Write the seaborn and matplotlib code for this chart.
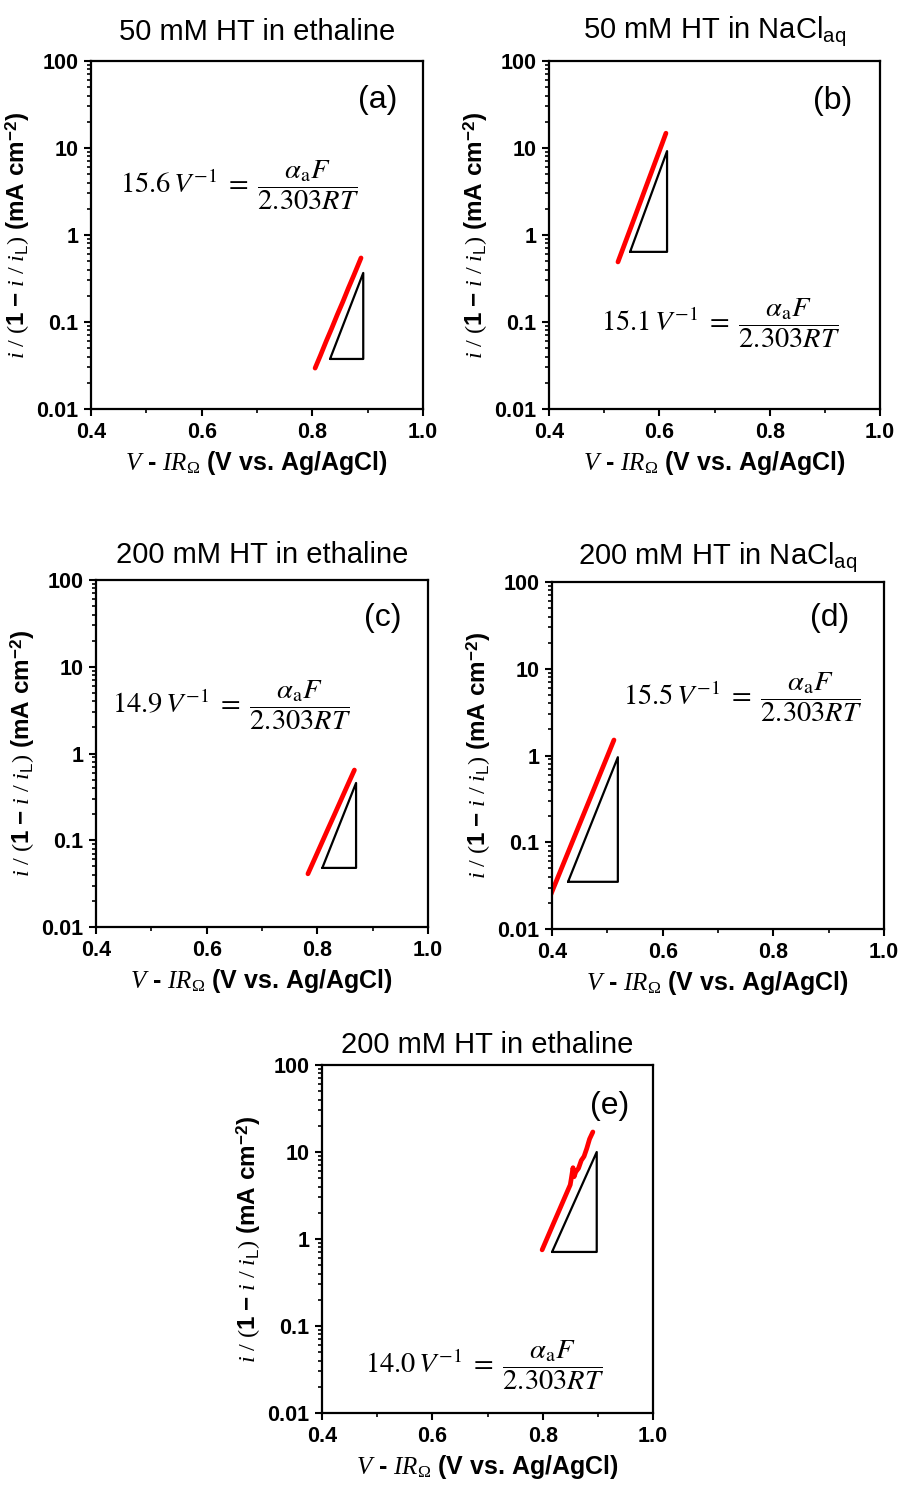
import numpy as np
import pandas as pd
import matplotlib
matplotlib.use("Agg")
import matplotlib.pyplot as plt
import matplotlib.ticker as mticker
import seaborn as sns

# ---------------- data ----------------
titles = ["50 mM HT in ethaline", "50 mM HT in NaCl$_{\\mathsf{aq}}$",
          "200 mM HT in ethaline", "200 mM HT in NaCl$_{\\mathsf{aq}}$",
          "200 mM HT in ethaline"]
panel_tags = ["(a)", "(b)", "(c)", "(d)", "(e)"]
slopes = ["15.6", "15.1", "14.9", "15.5", "14.0"]

a_x = [0.805, 0.815, 0.825, 0.835, 0.845, 0.855, 0.865, 0.875, 0.888]
a_y = [0.0295, 0.0418, 0.060, 0.0845, 0.121, 0.170, 0.244, 0.344, 0.545]
b_x = [0.525, 0.535, 0.545, 0.555, 0.565, 0.575, 0.585, 0.595, 0.605, 0.612]
b_y = [0.49, 0.724, 1.07, 1.58, 2.34, 3.47, 5.13, 7.59, 11.2, 14.8]
c_x = [0.783, 0.795, 0.807, 0.819, 0.831, 0.843, 0.855, 0.867]
c_y = [0.041, 0.0608, 0.0902, 0.134, 0.198, 0.294, 0.436, 0.645]
d_x = [0.395, 0.410, 0.425, 0.440, 0.455, 0.470, 0.485, 0.500, 0.512]
d_y = [0.0225, 0.0386, 0.0662, 0.1135, 0.1945, 0.333, 0.571, 0.979, 1.51]
e_x = [0.799, 0.810, 0.820, 0.830, 0.840, 0.850, 0.852, 0.855, 0.857, 0.860,
       0.865, 0.870, 0.875, 0.880, 0.885, 0.891]
e_y = [0.75, 1.09, 1.53, 2.14, 3.0, 4.2, 5.0, 6.6, 5.2, 5.9,
       6.5, 8.0, 8.9, 11.0, 14.1, 17.0]

# slope triangles (closed outline)
tri_a_x = [0.832, 0.892, 0.892, 0.832]; tri_a_y = [0.0376, 0.0376, 0.366, 0.0376]
tri_b_x = [0.547, 0.614, 0.614, 0.547]; tri_b_y = [0.64, 0.64, 9.2, 0.64]
tri_c_x = [0.809, 0.870, 0.870, 0.809]; tri_c_y = [0.048, 0.048, 0.457, 0.048]
tri_d_x = [0.429, 0.519, 0.519, 0.429]; tri_d_y = [0.035, 0.035, 0.955, 0.035]
tri_e_x = [0.817, 0.898, 0.898, 0.817]; tri_e_y = [0.71, 0.71, 10.0, 0.71]

x_ticks = [0.4, 0.6, 0.8, 1.0]
x_tick_labels = ["0.4", "0.6", "0.8", "1.0"]
x_minor = [0.5, 0.7, 0.9]
y_ticks = [0.01, 0.1, 1, 10, 100]
y_tick_labels = ["0.01", "0.1", "1", "10", "100"]

series = [(a_x, a_y), (b_x, b_y), (c_x, c_y), (d_x, d_y), (e_x, e_y)]
triangles = [(tri_a_x, tri_a_y), (tri_b_x, tri_b_y), (tri_c_x, tri_c_y),
             (tri_d_x, tri_d_y), (tri_e_x, tri_e_y)]

# ---------------- layout ----------------
W, H = 899, 1486
# left, top, right, bottom in pixels
boxes = [(91, 61, 423, 409), (549, 61, 880, 409),
         (96, 580, 428, 927), (552, 582, 884, 929),
         (322, 1065, 653, 1413)]
eq_pos = [(0.669, 3.76), (0.712, 0.098), (0.646, 3.63), (0.744, 4.72), (0.695, 0.0355)]
tag_pos = [(0.864, 0.888), (0.858, 0.885), (0.864, 0.89), (0.837, 0.896), (0.87, 0.882)]
title_y = [1.06, 1.063, 1.049, 1.049, 1.035]

sns.set_style("ticks")
plt.rcParams['font.family'] = ['Liberation Sans', 'DejaVu Sans']
plt.rcParams['text.color'] = 'black'
plt.rcParams['axes.labelcolor'] = 'black'
plt.rcParams['xtick.color'] = 'black'
plt.rcParams['ytick.color'] = 'black'
plt.rcParams['mathtext.fontset'] = 'custom'
plt.rcParams['mathtext.rm'] = 'Liberation Serif'
plt.rcParams['mathtext.it'] = 'Liberation Serif:italic'
plt.rcParams['mathtext.bf'] = 'Liberation Sans:bold'
plt.rcParams['mathtext.sf'] = 'Liberation Sans'

fig = plt.figure(figsize=(W / 100, H / 100), dpi=100)
fig.patch.set_facecolor("white")

ylab = r"$i\ /\ (\mathbf{1}\ \mathbf{-}\ i\ /\ i_{\mathsf{L}})$ (mA cm$^{\mathbf{-2}}$)"
xlab = r"$V$ - $IR_{\Omega}$ (V vs. Ag/AgCl)"

for k in range(5):
    l, t, r, b = boxes[k]
    ax = fig.add_axes([l / W, 1 - b / H, (r - l) / W, (b - t) / H])
    ax.set_facecolor("white")
    ax.set_yscale("log")
    sx, sy = series[k]
    df = pd.DataFrame({"x": sx, "y": sy})
    sns.lineplot(data=df, x="x", y="y", ax=ax, color="#ff0000", lw=3.4,
                 sort=False, estimator=None)
    tx, ty = triangles[k]
    dft = pd.DataFrame({"x": tx, "y": ty})
    sns.lineplot(data=dft, x="x", y="y", ax=ax, color="black", lw=1.6,
                 sort=False, estimator=None)
    ax.set_xlim(0.4, 1.0)
    ax.set_ylim(0.01, 100)
    ax.xaxis.set_major_locator(mticker.FixedLocator(x_ticks))
    ax.xaxis.set_major_formatter(mticker.FixedFormatter(x_tick_labels))
    ax.xaxis.set_minor_locator(mticker.FixedLocator(x_minor))
    ax.yaxis.set_major_locator(mticker.FixedLocator(y_ticks))
    ax.yaxis.set_major_formatter(mticker.FixedFormatter(y_tick_labels))
    ax.yaxis.set_minor_locator(mticker.LogLocator(base=10, subs=np.arange(2, 10), numticks=20))
    ax.yaxis.set_minor_formatter(mticker.NullFormatter())
    for s in ax.spines.values():
        s.set_visible(True)
        s.set_linewidth(1.6)
        s.set_color("black")
    ax.tick_params(which="major", direction="out", length=5, width=1.5,
                   labelsize=15.5, color="black", labelcolor="black", pad=4)
    ax.tick_params(which="minor", direction="out", length=3, width=1.2, color="black")
    for lab in ax.get_xticklabels() + ax.get_yticklabels():
        lab.set_fontweight("bold")
    ax.set_xlabel(xlab, fontsize=18, fontweight="bold", labelpad=5)
    ax.set_ylabel(ylab, fontsize=17.5, fontweight="bold", labelpad=3)
    ax.text(0.5, title_y[k], titles[k], transform=ax.transAxes, ha="center",
            va="baseline", fontsize=21, color="black")
    ax.text(tag_pos[k][0], tag_pos[k][1], panel_tags[k], transform=ax.transAxes,
            ha="center", va="center", fontsize=23, color="black")
    eq = r"$%s\,V^{-1}\;=\;\dfrac{\alpha_{\mathrm{a}}F}{2.303RT}$" % slopes[k]
    ax.text(eq_pos[k][0], eq_pos[k][1], eq, ha="center", va="center",
            fontsize=20.5, math_fontfamily="stix", color="black")

fig.savefig("out.png", dpi=100, facecolor="white")
